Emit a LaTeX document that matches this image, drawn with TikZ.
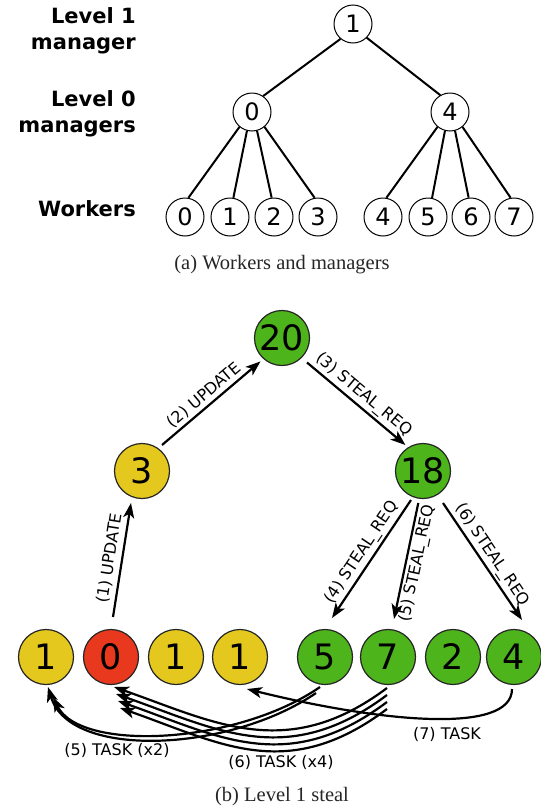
\documentclass[tikz,border=0pt]{standalone}
\usepackage{fontspec}
\setmainfont{DejaVu Sans}
\newfontfamily\capfont{Liberation Serif}
\usetikzlibrary{arrows.meta}
\definecolor{wsyellow}{HTML}{E5C81E}
\definecolor{wsred}{HTML}{E8381E}
\definecolor{wsgreen}{HTML}{4EB41C}

\begin{document}
\begin{tikzpicture}[
  x=1pt, y=1pt,
  small/.style={draw, circle, line width=1pt, minimum size=38pt, inner sep=0pt, font=\fontsize{24}{28}\selectfont},
  big/.style={draw=black!85, circle, line width=1.2pt, minimum size=55pt, inner sep=0pt, font=\fontsize{35}{40}\selectfont},
  lvl/.style={align=right, inner sep=0pt, font=\fontsize{21}{26.5}\selectfont\bfseries},
  subcap/.style={inner sep=0pt, text=black!85, font=\fontsize{20.5}{24}\selectfont\capfont},
  msg/.style={inner sep=2.5pt, font=\fontsize{16}{19}\selectfont},
  link/.style={line width=2pt},
  arr/.style={-{Stealth[length=15pt, width=11pt, inset=4pt]}, line width=2.2pt}
]
\useasboundingbox (0,0) rectangle (541,-809);

\node[small] (t1) at (353,-24) {1};
\node[small] (m0) at (252,-112) {0};
\node[small] (m4) at (450,-112) {4};
\foreach \i/\x in {0/185,1/230,2/274,3/318,4/383,5/428,6/471,7/514}
  \node[small] (w\i) at (\x,-217) {\i};

\node[lvl, anchor=east] (lv1) at (136,-31) {Level 1\\manager};
\node[lvl, anchor=east] (lv0) at (136,-114) {Level 0\\managers};
\node[lvl, anchor=base east] (lvw) at (136,-216.7) {Workers};

\draw[link] (t1.230) -- (m0.55);
\draw[link] (t1.315) -- (m4.120);
\foreach \m/\w/\s/\e in {0/0/230/80, 0/1/255/80, 0/2/285/97, 0/3/310/100,
                         4/4/230/80, 4/5/255/78, 4/6/285/97, 4/7/310/100}
  \draw[link] (m\m.\s) -- (w\w.\e);

\node[subcap] (capa) at (282,-265) {(a) Workers and managers};

\node[big, fill=wsgreen] (n20) at (282,-338) {20};
\node[big, fill=wsyellow] (n3) at (142,-471) {3};
\node[big, fill=wsgreen] (n18) at (423,-471) {18};
\foreach \i/\x/\c/\v in {1/46/wsyellow/1, 2/111/wsred/0, 3/176/wsyellow/1, 4/240/wsyellow/1,
                         5/325/wsgreen/5, 6/388/wsgreen/7, 7/453/wsgreen/2, 8/514/wsgreen/4}
  \node[big, fill=\c] (b\i) at (\x,-657) {\v};

\draw[arr] ([shift={(2,40)}]b2.center) -- node[msg, sloped, above=1.5pt] (u1) {(1) UPDATE} ([shift={(-11,-32)}]n3.center);
\draw[arr] ([shift={(20,26)}]n3.center) -- node[msg, sloped, above] (u2) {(2) UPDATE} ([shift={(-21.5,-23.4)}]n20.center);
\draw[arr] ([shift={(25,-24.5)}]n20.center) -- node[msg, sloped, above] (s3) {(3) STEAL\_REQ} ([shift={(-17.6,26)}]n18.center);
\draw[arr] ([shift={(-12,-29)}]n18.center) -- node[msg, sloped, above] (s4) {(4) STEAL\_REQ} ([shift={(7,39)}]b5.center);
\draw[arr] ([shift={(-4.7,-32)}]n18.center) -- node[msg, sloped, below] (s5) {(5) STEAL\_REQ} ([shift={(6,38)}]b6.center);
\draw[arr] ([shift={(20,-32)}]n18.center) -- node[msg, sloped, above] (s6) {(6) STEAL\_REQ} ([shift={(8,37)}]b8.center);

\draw[arr] ([shift={(-9,-36)}]b5.center) .. controls +(-86,-59) and +(22,-73) .. ([shift={(2,-30)}]b1.center);
\draw[arr] ([shift={(-5,-30)}]b5.center) .. controls +(-84,-58) and +(27,-55) .. ([shift={(7,-40)}]b1.center);
\foreach \i in {0,...,3}
  \draw[arr] ([shift={(-1,-31-7*\i)}]b6.center) .. controls +(-100,-75) and +(100,-35) .. ([shift={(3+2*\i,-30-7*\i)}]b2.center);
\draw[arr] ([shift={(-2,-32)}]b8.center) .. controls +(0,-46) and +(133,-33) .. ([shift={(7,-32)}]b4.center);

\node[msg] (k5) at (117,-750) {(5) TASK (x2)};
\node[msg] (k6) at (281,-762) {(6) TASK (x4)};
\node[msg] (k7) at (447,-734) {(7) TASK};

\node[subcap] (capb) at (282,-797) {(b) Level 1 steal};
\end{tikzpicture}
\end{document}
